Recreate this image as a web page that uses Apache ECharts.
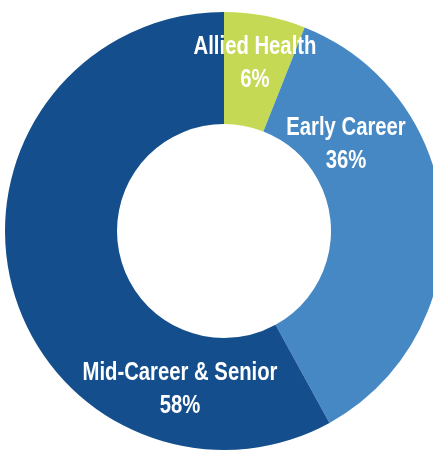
<!DOCTYPE html>
<html>
<head>
<meta charset="utf-8">
<script src="https://cdn.jsdelivr.net/npm/echarts@6/dist/echarts.min.js"></script>
<style>html,body{margin:0;padding:0;background:#fff;}#c{width:433px;height:454px;}</style>
</head>
<body>
<div id="c"></div>
<script>
const categories = ["Allied Health", "Early Career", "Mid-Career & Senior"];
const values = [6, 36, 58];
const colors = ["#c5d955", "#4688c4", "#154e8d"];
const labelPos = [[255, 63], [346, 144], [180, 389]];

const chart = echarts.init(document.getElementById('c'), null, {renderer: 'canvas'});
chart.setOption({
  animation: false,
  series: [{
    type: 'pie',
    center: [224, 231],
    radius: [107, 219],
    startAngle: 90,
    clockwise: true,
    silent: true,
    data: categories.map((c, i) => ({name: c, value: values[i], itemStyle: {color: colors[i]}})),
    label: {show: false},
    labelLine: {show: false}
  }],
  graphic: categories.map((c, i) => ({
    type: 'text',
    x: labelPos[i][0],
    y: labelPos[i][1],
    scaleX: 0.78,
    z: 100,
    style: {
      text: c + '\n' + values[i] + '%',
      x: 0, y: 0,
      align: 'center',
      verticalAlign: 'middle',
      fill: '#ffffff',
      font: 'bold 26px "Liberation Sans", Arial, sans-serif',
      lineHeight: 33
    }
  }))
});
</script>
</body>
</html>
